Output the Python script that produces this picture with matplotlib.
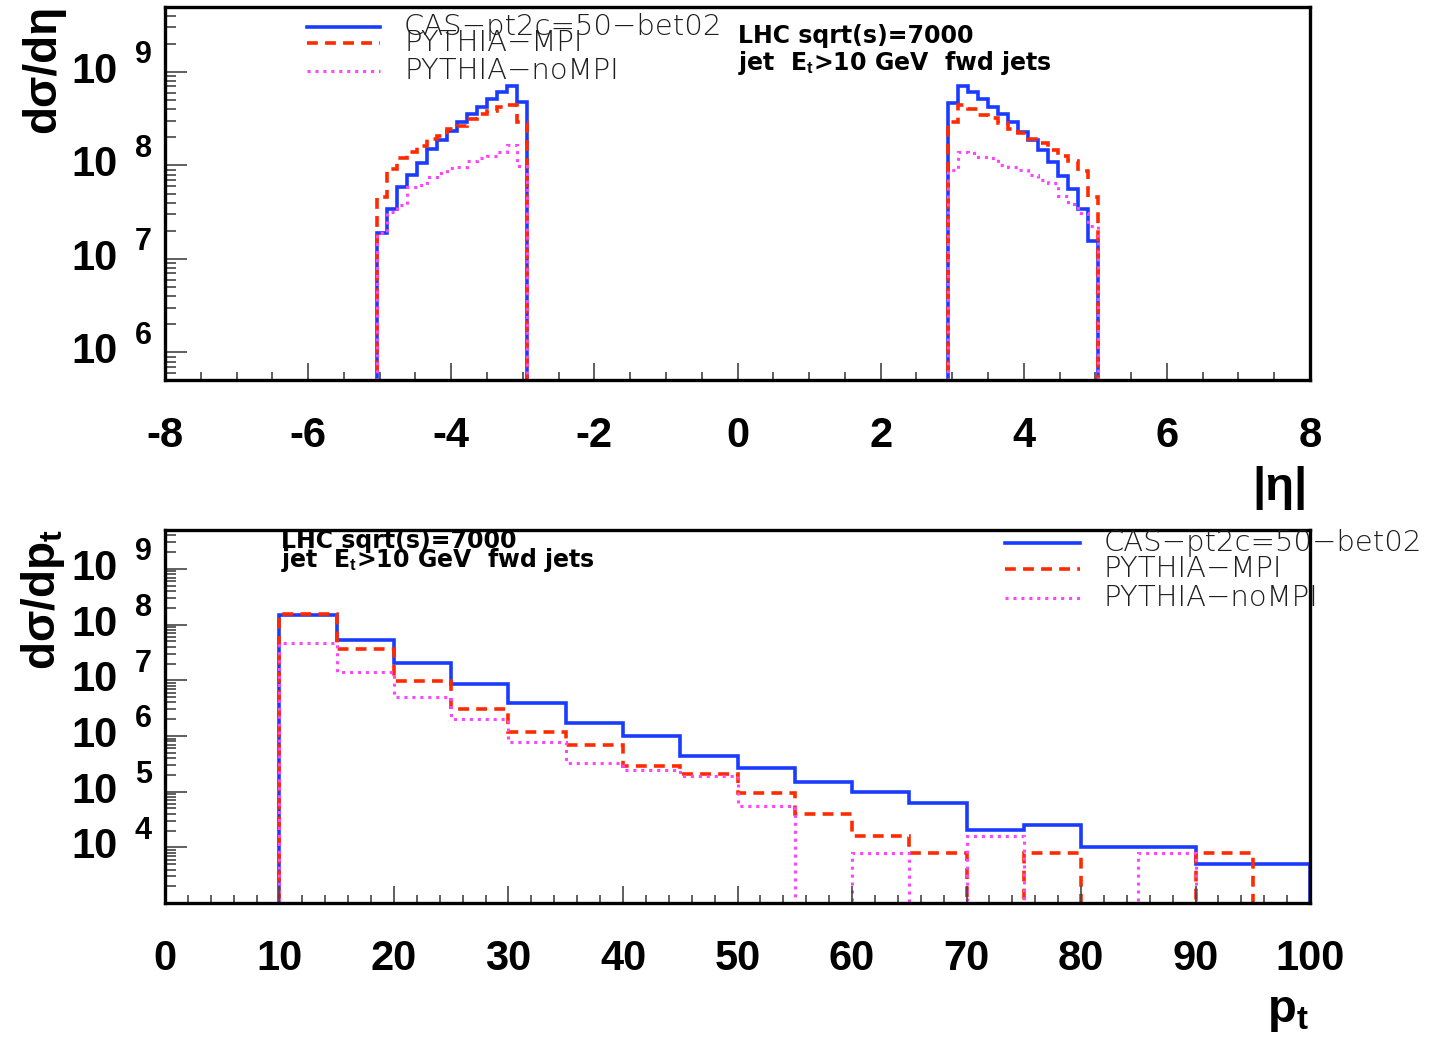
import numpy as np
import matplotlib
matplotlib.use('Agg')
import matplotlib.pyplot as plt
from matplotlib.lines import Line2D
from matplotlib.ticker import FixedLocator, LogLocator, NullFormatter

plt.rcParams['font.family'] = ['Liberation Sans', 'DejaVu Sans']
plt.rcParams['mathtext.fontset'] = 'custom'
plt.rcParams['mathtext.rm'] = 'Liberation Sans'
plt.rcParams['mathtext.bf'] = 'Liberation Sans:bold'
plt.rcParams['mathtext.it'] = 'Liberation Sans:italic'

# ---- data: d sigma / d eta, 15 bins of 0.14 on each side ----
eta_left_edges = np.round(-5.04 + 0.14 * np.arange(16), 2)
eta_right_edges = np.round(2.94 + 0.14 * np.arange(16), 2)

cas_eta_left = [1.91e7, 3.40e7, 5.93e7, 7.91e7, 1.05e8, 1.50e8, 1.87e8, 2.36e8,
                2.90e8, 3.52e8, 4.26e8, 5.11e8, 6.07e8, 7.14e8, 4.74e8]
mpi_eta_left = [4.65e7, 9.10e7, 1.19e8, 1.41e8, 1.62e8, 1.92e8, 2.08e8, 2.44e8,
                2.64e8, 3.12e8, 3.52e8, 3.85e8, 4.19e8, 4.44e8, 2.94e8]
nompi_eta_left = [1.88e7, 3.21e7, 3.78e7, 5.94e7, 6.18e7, 7.46e7, 8.24e7, 9.33e7,
                  9.72e7, 1.12e8, 1.21e8, 1.26e8, 1.41e8, 1.66e8, 9.89e7]

cas_eta_right = [4.62e8, 7.14e8, 6.17e8, 5.14e8, 4.26e8, 3.52e8, 2.94e8, 2.30e8,
                 1.85e8, 1.47e8, 1.10e8, 7.73e7, 5.56e7, 3.45e7, 1.57e7]
mpi_eta_right = [2.94e8, 4.44e8, 3.99e8, 3.47e8, 3.25e8, 2.82e8, 2.45e8, 2.21e8,
                 1.92e8, 1.73e8, 1.47e8, 1.26e8, 1.13e8, 8.73e7, 4.65e7]
nompi_eta_right = [8.95e7, 1.41e8, 1.37e8, 1.22e8, 1.19e8, 1.01e8, 9.72e7, 8.95e7,
                   7.91e7, 7.00e7, 6.44e7, 4.72e7, 3.87e7, 3.08e7, 2.25e7]

# ---- data: d sigma / d pt, bins of 5 GeV from 10 to 100 ----
pt_edges = np.arange(10, 101, 5)
cas_pt = [1.49e8, 5.28e7, 2.01e7, 8.55e6, 3.94e6, 1.72e6, 1.00e6, 4.39e5, 2.71e5,
          1.50e5, 9.9e4, 6.27e4, 2.08e4, 2.56e4, 1.01e4, 1.01e4, 5.1e3, 5.1e3]
mpi_pt = [1.55e8, 3.59e7, 9.8e6, 2.99e6, 1.19e6, 6.75e5, 2.86e5, 2.11e5, 9.6e4,
          3.93e4, 1.58e4, 7.9e3, 0, 7.9e3, 0, 0, 7.9e3, 0]
nompi_pt = [4.73e7, 1.43e7, 5.06e6, 2.0e6, 7.85e5, 3.29e5, 2.49e5, 1.89e5, 5.46e4,
            0, 7.9e3, 0, 1.58e4, 0, 0, 7.9e3, 0, 0]

labels = ['CAS\u2212pt2c=50\u2212bet02', 'PYTHIA\u2212MPI', 'PYTHIA\u2212noMPI']
colors = ['#1a3cff', '#ff2a00', '#ff44ff']
styles = ['-', (0, (3, 2)), (0, (1, 1.6))]
widths = [2.6, 2.6, 2.2]

eta_ticks = [-8, -6, -4, -2, 0, 2, 4, 6, 8]
eta_ticklabels = ['-8', '-6', '-4', '-2', '0', '2', '4', '6', '8']
pt_ticks = [0, 10, 20, 30, 40, 50, 60, 70, 80, 90, 100]

fig = plt.figure(figsize=(14.42, 10.43), dpi=100)
ax1 = fig.add_axes([0.1144, 0.6357, 0.7941, 0.3576])
ax2 = fig.add_axes([0.1144, 0.1342, 0.7941, 0.3577])

# top panel
for vals_l, vals_r, c, ls, lw in zip([cas_eta_left, mpi_eta_left, nompi_eta_left],
                                     [cas_eta_right, mpi_eta_right, nompi_eta_right],
                                     colors, styles, widths):
    ax1.stairs(vals_l, eta_left_edges, baseline=1.0, color=c, linestyle=ls, lw=lw)
    ax1.stairs(vals_r, eta_right_edges, baseline=1.0, color=c, linestyle=ls, lw=lw)
ax1.set_yscale('log')
ax1.set_xlim(-8, 8)
ax1.set_ylim(10 ** 5.706, 10 ** 9.695)
ax1.set_xticks(eta_ticks)
ax1.set_xticklabels(eta_ticklabels)
ax1.xaxis.set_minor_locator(FixedLocator(np.arange(-8, 8.01, 0.5)))

# bottom panel
for vals, c, ls, lw in zip([cas_pt, mpi_pt, nompi_pt], colors, styles, widths):
    v = np.array(vals, dtype=float)
    v = np.where(v > 0, v, 1.0)
    ax2.stairs(v, pt_edges, baseline=1.0, color=c, linestyle=ls, lw=lw)
ax2.set_yscale('log')
ax2.set_xlim(0, 100)
ax2.set_ylim(1e3, 10 ** 9.70)
ax2.set_xticks(pt_ticks)
ax2.xaxis.set_minor_locator(FixedLocator(np.arange(0, 101, 2)))

for ax, decades in [(ax1, range(6, 10)), (ax2, range(4, 10))]:
    for s in ax.spines.values():
        s.set_linewidth(2.4)
    ax.yaxis.set_minor_locator(LogLocator(base=10, subs=np.arange(2, 10), numticks=20))
    ax.yaxis.set_minor_formatter(NullFormatter())
    ax.set_yticks([10.0 ** d for d in decades])
    ax.set_yticklabels([])
    ax.tick_params(axis='x', which='major', direction='in', length=12, width=1.2,
                   color='#444444', pad=26, labelsize=30)
    ax.tick_params(axis='x', which='minor', direction='in', length=6, width=1.2,
                   color='#444444')
    ax.tick_params(axis='y', which='major', direction='in', length=16, width=1.2,
                   color='#444444')
    ax.tick_params(axis='y', which='minor', direction='in', length=8, width=1.2,
                   color='#444444')
    for lab in ax.get_xticklabels():
        lab.set_fontweight('bold')
    for d in decades:
        ax.annotate('10', xy=(0.0818, 10.0 ** d), xycoords=('figure fraction', 'data'),
                    ha='right', va='center', fontsize=30, fontweight='bold')
        ax.annotate(str(d), xy=(0.0936, 10.0 ** d), xycoords=('figure fraction', 'data'),
                    xytext=(0, 12), textcoords='offset points',
                    ha='left', va='center', fontsize=22, fontweight='bold')

# axis titles
fig.text(0.03, 0.995, 'd\u03c3/d\u03b7', rotation=90, ha='center', va='top',
         fontsize=33, fontweight='bold')
fig.text(0.03, 0.493, 'd\u03c3/dp$_\\mathbf{t}$', rotation=90, ha='center', va='top',
         fontsize=33, fontweight='bold')
fig.text(0.907, 0.532, '|\u03b7|', ha='right', va='center', fontsize=34, fontweight='bold')
fig.text(0.908, 0.03, 'p$_\\mathbf{t}$', ha='right', va='center', fontsize=34,
         fontweight='bold')

# annotations
for x, y1, y2 in [(0.5118, 0.9585, 0.9329), (0.1949, 0.4743, 0.4567)]:
    fig.text(x, y1, 'LHC sqrt(s)=7000', ha='left', va='baseline', fontsize=17,
             fontweight='bold', family=['DejaVu Sans'])
    fig.text(x, y2, 'jet  E$_\\mathbf{t}$>10 GeV  fwd jets', ha='left', va='baseline',
             fontsize=17, fontweight='bold', family=['DejaVu Sans'])

# legends (drawn by hand, the top one overlaps like the original)
legend_sets = [
    (0.2129, 0.2635, 0.2802, [0.9741, 0.9588, 0.9319]),
    (0.6970, 0.7490, 0.7656, [0.4794, 0.4545, 0.4267]),
]
for x0, x1, xt, ys in legend_sets:
    for lab, c, ls, lw, y in zip(labels, colors, styles, widths, ys):
        fig.add_artist(Line2D([x0, x1], [y, y], color=c, linestyle=ls, lw=lw,
                              transform=fig.transFigure))
        fig.text(xt, y, lab, ha='left', va='center', fontsize=21, color='#1e1e1e',
                 family=['DejaVu Sans'], fontweight='light')

fig.savefig('out.png', dpi=100)
